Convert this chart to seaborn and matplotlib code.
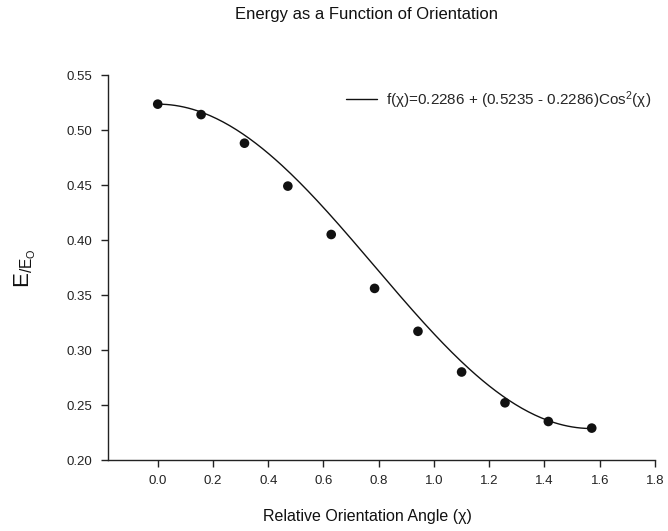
import numpy as np
import pandas as pd
import seaborn as sns
import matplotlib
matplotlib.use("Agg")
import matplotlib.pyplot as plt

# data
angle = [0.0, 0.157, 0.314, 0.471, 0.628, 0.785, 0.942, 1.100, 1.257, 1.414, 1.571]
energy = [0.5235, 0.514, 0.488, 0.449, 0.405, 0.356, 0.317, 0.280, 0.252, 0.235, 0.229]

# fit coefficients as printed in the legend
e_min = 0.2286
e_max = 0.5235

x_ticks = [0.0, 0.2, 0.4, 0.6, 0.8, 1.0, 1.2, 1.4, 1.6, 1.8]
y_ticks = [0.20, 0.25, 0.30, 0.35, 0.40, 0.45, 0.50, 0.55]

sns.set_style("ticks")
plt.rcParams['font.family'] = ['Liberation Sans', 'DejaVu Sans']
plt.rcParams['mathtext.fontset'] = 'custom'
plt.rcParams['mathtext.rm'] = 'Liberation Sans'
plt.rcParams['mathtext.it'] = 'Liberation Sans'

pts = pd.DataFrame({'angle': angle, 'energy': energy})
xs = np.linspace(0, np.pi / 2, 200)
fit = pd.DataFrame({'angle': xs, 'energy': e_min + (e_max - e_min) * np.cos(xs) ** 2})

fig = plt.figure(figsize=(6.68, 5.31), dpi=100)
ax = fig.add_axes([108 / 668, 1 - 460 / 531, (655 - 108) / 668, (460 - 75) / 531])

sns.lineplot(data=fit, x='angle', y='energy', ax=ax, color='#111111', linewidth=1.0,
             label=u'f(\u03c7)=0.2286 + (0.5235 - 0.2286)Cos$^{2}$(\u03c7)')
sns.scatterplot(data=pts, x='angle', y='energy', ax=ax, color='#111111', s=48,
                edgecolor='none', zorder=3)

ax.set_xlim(-0.18, 1.8)
ax.set_ylim(0.20, 0.55)
ax.set_xticks(x_ticks)
ax.set_yticks(y_ticks)
ax.set_xticklabels([f'{t:.1f}' for t in x_ticks])
ax.set_yticklabels([f'{t:.2f}' for t in y_ticks])
ax.tick_params(direction='out', length=5, width=1, labelsize=9.5, colors='#222222', pad=6)
for s in ['top', 'right']:
    ax.spines[s].set_visible(False)
for s in ['left', 'bottom']:
    ax.spines[s].set_linewidth(1.0)
    ax.spines[s].set_color('#222222')
ax.set_xlabel('')
ax.set_ylabel('')

ax.legend(loc='center left', frameon=False, fontsize=11, handlelength=2.0,
          handletextpad=0.6, borderpad=0, borderaxespad=0,
          bbox_to_anchor=(346 / 668, 1 - 100 / 531), bbox_transform=fig.transFigure)

fig.text(366 / 668, 1 - 14 / 531, 'Energy as a Function of Orientation',
         ha='center', va='center', fontsize=12, color='#111111')
fig.text(367 / 668, 1 - 517 / 531, u'Relative Orientation Angle (\u03c7)',
         ha='center', va='center', fontsize=11.5, color='#111111')
fig.text(25 / 668, 1 - 268 / 531, r'E$_{\mathregular{/E_O}}$', rotation=90,
         ha='center', va='center', fontsize=16, color='#111111')

fig.savefig('out.png', dpi=100)
